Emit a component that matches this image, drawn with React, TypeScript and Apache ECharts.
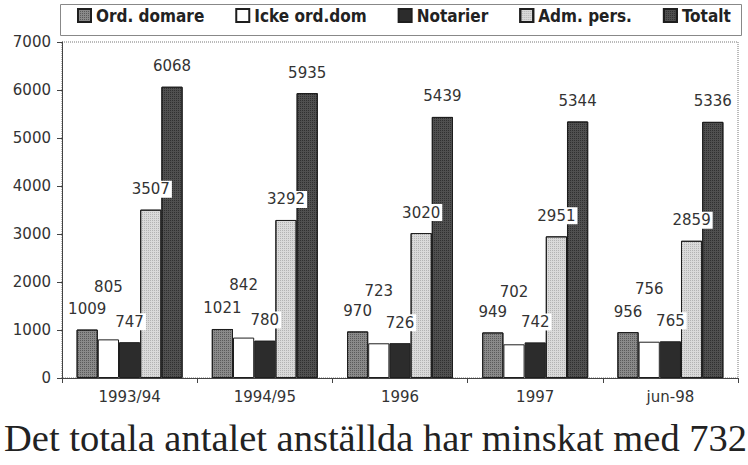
import React, { useEffect, useRef } from "react";
import * as echarts from "echarts";

const categories = ["1993/94", "1994/95", "1996", "1997", "jun-98"];
const seriesNames = ["Ord. domare", "Icke ord.dom", "Notarier", "Adm. pers.", "Totalt"];
const ordDomare = [1009, 1021, 970, 949, 956];
const ickeOrdDom = [805, 842, 723, 702, 756];
const notarier = [747, 780, 726, 742, 765];
const admPers = [3507, 3292, 3020, 2951, 2859];
const totalt = [6068, 5935, 5439, 5344, 5336];
const yTicks = { min: 0, max: 7000, interval: 1000 };
const caption = "Det totala antalet anställda har minskat med 732";

const seriesValues = [ordDomare, ickeOrdDom, notarier, admPers, totalt];
const seriesColors = ["#8a8a8a", "#ffffff", "#2c2c2c", "#dadada", "#505050"];
const decalColors = ["rgba(0,0,0,0.35)", null, null, "rgba(0,0,0,0.18)", "rgba(0,0,0,0.4)"];
const labelDistances = [12, 44, 12, 12, 12];

export default function App() {
  const ref = useRef<HTMLDivElement>(null);

  useEffect(() => {
    if (!ref.current) return;
    const chart = echarts.init(ref.current, undefined, { renderer: "svg" });
    const labelFont = "'DejaVu Sans', sans-serif";
    chart.setOption({
      animation: false,
      backgroundColor: "#ffffff",
      aria: { enabled: false },
      grid: {
        left: 62,
        right: 10,
        top: 42,
        bottom: 87,
        show: true,
        borderColor: "#777",
        borderWidth: 1,
        borderType: "dotted",
        backgroundColor: "transparent",
      },
      legend: {
        left: 77,
        top: 7,
        width: 680,
        padding: 0,
        itemWidth: 13,
        itemHeight: 13,
        itemGap: 31,
        icon: "rect",
        textStyle: {
          fontFamily: "'DejaVu Sans Condensed', 'DejaVu Sans', sans-serif",
          fontWeight: "bold",
          fontSize: 17,
          color: "#222",
        },
        data: seriesNames,
      },
      xAxis: {
        type: "category",
        data: categories,
        axisLine: { lineStyle: { color: "#444", width: 1 } },
        axisTick: { show: true, length: 5, lineStyle: { color: "#444" } },
        axisLabel: {
          margin: 11,
          fontFamily: labelFont,
          fontSize: 15,
          color: "#333",
        },
      },
      yAxis: {
        type: "value",
        min: yTicks.min,
        max: yTicks.max,
        interval: yTicks.interval,
        axisLine: { show: true, lineStyle: { color: "#444", width: 1 } },
        axisTick: { show: true, length: 5, lineStyle: { color: "#444" } },
        splitLine: { show: false },
        axisLabel: {
          margin: 11,
          fontFamily: labelFont,
          fontSize: 15,
          color: "#333",
          formatter: (v: number) => String(v),
        },
      },
      series: seriesNames.map((name, i) => ({
        name,
        type: "bar",
        data: seriesValues[i],
        barGap: "0%",
        barCategoryGap: "21.6%",
        itemStyle: {
          color: seriesColors[i],
          borderColor: "#1e1e1e",
          borderWidth: 1,
          decal: decalColors[i]
            ? {
                symbol: "rect",
                symbolSize: 1,
                color: decalColors[i],
                dashArrayX: [1, 1],
                dashArrayY: [1, 1],
                rotation: 0,
              }
            : "none",
        },
        label: {
          show: true,
          position: "top",
          distance: labelDistances[i],
          fontFamily: labelFont,
          fontSize: 15,
          color: "#333",
          backgroundColor: "#ffffff",
          padding: [1, 2],
        },
      })),
      graphic: [
        {
          type: "rect",
          left: 58,
          top: 2,
          shape: { width: 681, height: 31 },
          style: { fill: "none", stroke: "#888", lineWidth: 1 },
          z: -1,
        },
        {
          type: "text",
          left: 4,
          top: 418,
          style: {
            text: caption,
            font: "38.5px 'Liberation Serif', serif",
            fill: "#222",
          },
        },
      ],
    });
    return () => chart.dispose();
  }, []);

  return (
    <div
      ref={ref}
      style={{ position: "fixed", left: 0, top: 0, width: 748, height: 465 }}
    />
  );
}
